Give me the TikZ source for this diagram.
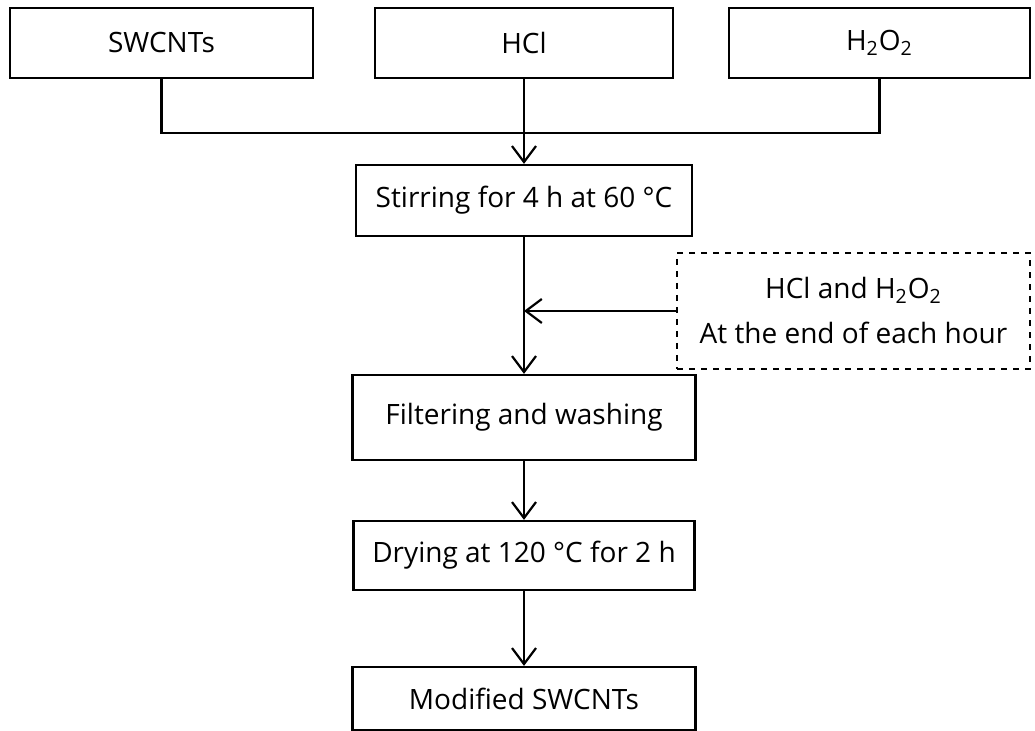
\documentclass[tikz,border=0pt]{standalone}
\usepackage{fontspec}
\setmainfont{Open Sans}
\usetikzlibrary{arrows.meta}
\begin{document}
\begin{tikzpicture}[x=0.5pt,y=-0.5pt,
  box/.style={draw,line width=1.1pt,inner sep=0pt,font=\fontsize{14}{22.5}\selectfont},
  arr/.style={-{Straight Barb[length=8pt,width=12pt]},line width=1.1pt}]
	\useasboundingbox (0,0) rectangle (1035,731);
	\node[box,minimum width=151.5pt,minimum height=35pt] (swcnt) at (161.5,43) {SWCNTs};
	\node[box,minimum width=149pt,minimum height=35pt] (hcl) at (524,43) {HCl};
	\node[box,minimum width=150.5pt,minimum height=35pt] (hoo) at (879.5,43) {H\textsubscript{2}O\textsubscript{2}};
	\node[box,minimum width=168pt,minimum height=35.5pt] (stir) at (524,200.5) {Stirring for 4 h at 60 °C};
	\node[box,dashed,align=center,minimum width=176.5pt,minimum height=58pt] (add) at (853.5,311) {HCl and H\textsubscript{2}O\textsubscript{2}\\At the end of each hour};
	\node[box,minimum width=171.5pt,minimum height=42.5pt] (filt) at (524,417.5) {Filtering and washing};
	\node[box,minimum width=170.5pt,minimum height=34.5pt] (dry) at (524,555.5) {Drying at 120 °C for 2 h};
	\node[box,minimum width=171.5pt,minimum height=31.5pt] (mod) at (524,698.5) {Modified SWCNTs};
	\coordinate (join) at (524,133);
	\draw[line width=1.1pt] (swcnt.south) |- (join) -| (hoo.south);
	\draw[arr] (hcl.south) -- (stir.north);
	\draw[arr] (stir.south) -- (filt.north);
	\draw[arr] (add.west) -- (add.west -| stir.south);
	\draw[arr] (filt.south) -- (dry.north);
	\draw[arr] (dry.south) -- (mod.north);
\end{tikzpicture}
\end{document}
